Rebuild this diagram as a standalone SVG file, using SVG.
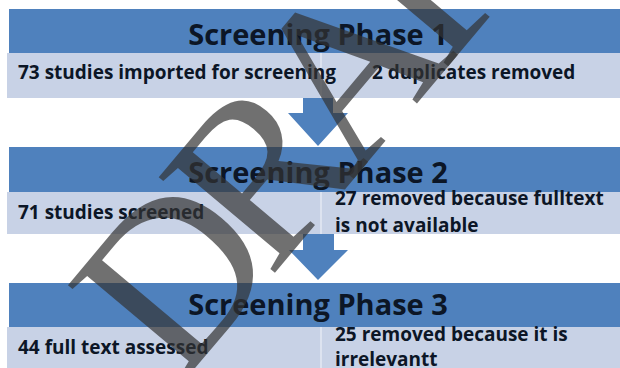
<svg xmlns="http://www.w3.org/2000/svg" width="620" height="368" viewBox="0 0 620 368">
<style>
.hdr{fill:#4f81bd}
.row{fill:#c8d2e6}
.div{stroke:#e4e9f3;stroke-width:1.5}
.ht{font-family:"Open Sans","Noto Sans",sans-serif;font-weight:bold;font-size:29px;fill:#0c1626;text-anchor:middle}
.rt{font-family:"Open Sans","Noto Sans",sans-serif;font-weight:bold;font-size:19px;fill:#0c1626}
.arr{fill:#4f81bd}
.wm{font-family:"Liberation Serif","Times New Roman",serif;font-size:230px;fill:#333;fill-opacity:0.7;letter-spacing:-25px}
</style>
<rect width="620" height="368" fill="#ffffff"/>
<g id="phase1">
<rect class="hdr" x="9" y="9" width="611" height="44"/>
<rect class="row" x="7" y="53" width="613" height="45"/>
<line class="div" x1="321" y1="53" x2="321" y2="98"/>
<text class="ht" x="318" y="45">Screening Phase 1</text>
<text class="rt" x="18" y="79">73 studies imported for screening</text>
<text class="rt" x="372" y="79">2 duplicates removed</text>
</g>
<g id="phase2">
<rect class="hdr" x="9" y="147" width="611" height="45"/>
<rect class="row" x="7" y="192" width="613" height="42"/>
<line class="div" x1="321" y1="192" x2="321" y2="234"/>
<text class="ht" x="318" y="183">Screening Phase 2</text>
<text class="rt" x="18" y="219">71 studies screened</text>
<text class="rt" x="335" y="205">27 removed because fulltext</text>
<text class="rt" x="335" y="232">is not available</text>
</g>
<g id="phase3">
<rect class="hdr" x="9" y="283" width="611" height="44"/>
<rect class="row" x="7" y="327" width="613" height="41"/>
<line class="div" x1="321" y1="327" x2="321" y2="368"/>
<text class="ht" x="318" y="315">Screening Phase 3</text>
<text class="rt" x="18" y="354">44 full text assessed</text>
<text class="rt" x="335" y="341">25 removed because it is</text>
<text class="rt" x="335" y="366">irrelevantt</text>
</g>
<g id="connectors">
<polygon class="arr" points="303,98 333,98 333,113 348,113 318,146 288,113 303,113"/>
<polygon class="arr" points="303,234 334,234 334,250 348,250 318,280 289,250 303,250"/>
</g>
<text class="wm" transform="translate(179,387) rotate(-50)">DRAFT</text>
</svg>
